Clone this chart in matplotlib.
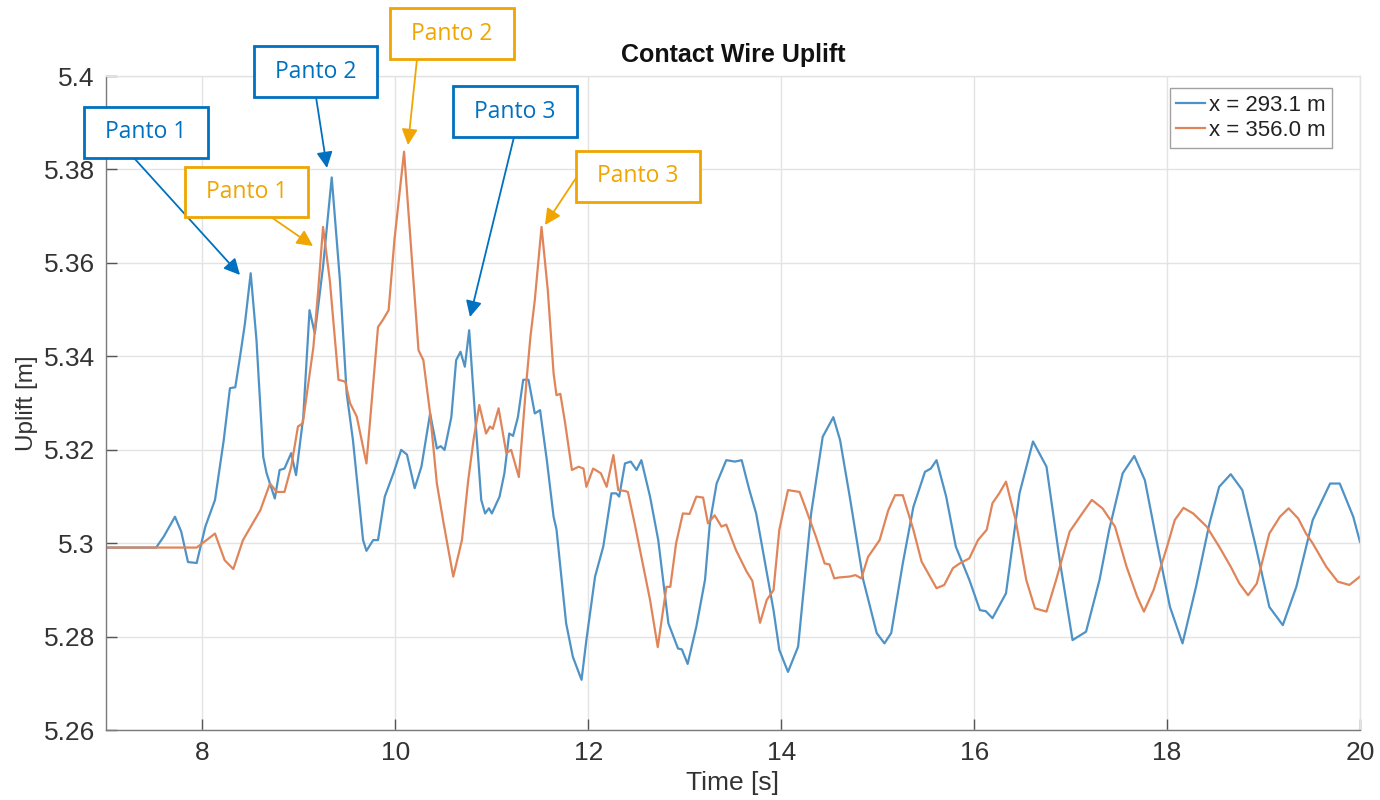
import matplotlib
matplotlib.use("Agg")
import matplotlib.pyplot as plt
from matplotlib.patches import Rectangle

# ---------------- data ----------------
t_blue = [7.0, 7.52, 7.6, 7.715, 7.78, 7.85, 7.94, 8.03, 8.13, 8.22, 8.285, 8.34, 8.39, 8.44, 8.50,
          8.56, 8.63, 8.665, 8.75, 8.80, 8.85, 8.92, 8.97, 9.045, 9.11, 9.165, 9.25, 9.34, 9.425,
          9.495, 9.56, 9.665, 9.70, 9.77, 9.82, 9.89, 9.98, 10.06, 10.12, 10.20, 10.27, 10.36,
          10.43, 10.47, 10.51, 10.58, 10.63, 10.675, 10.72, 10.765, 10.82, 10.89, 10.93, 10.97,
          11.00, 11.08, 11.13, 11.18, 11.22, 11.27, 11.325, 11.38, 11.445, 11.50, 11.57, 11.64,
          11.67, 11.77, 11.84, 11.93, 11.98, 12.07, 12.155, 12.24, 12.29, 12.32, 12.38, 12.44,
          12.50, 12.55, 12.64, 12.725, 12.83, 12.93, 12.97, 13.03, 13.12, 13.21, 13.26, 13.33,
          13.43, 13.52, 13.59, 13.67, 13.74, 13.79, 13.92, 13.98, 14.07, 14.175, 14.31, 14.43,
          14.54, 14.61, 14.71, 14.85, 14.99, 15.07, 15.14, 15.26, 15.37, 15.49, 15.55, 15.61,
          15.71, 15.81, 15.95, 16.06, 16.12, 16.19, 16.33, 16.47, 16.61, 16.75, 16.89, 17.02,
          17.16, 17.30, 17.40, 17.54, 17.66, 17.77, 17.89, 18.03, 18.16, 18.30, 18.44, 18.54,
          18.66, 18.78, 18.92, 19.06, 19.20, 19.34, 19.51, 19.69, 19.79, 19.93, 20.0]
y_blue = [5.2991, 5.2991, 5.3015, 5.3057, 5.3025, 5.2960, 5.2958, 5.3036, 5.3093, 5.3220, 5.3332,
          5.3334, 5.3400, 5.3470, 5.3578, 5.3435, 5.3185, 5.3150, 5.3096, 5.3157, 5.3160, 5.3193,
          5.3146, 5.3270, 5.3499, 5.3449, 5.3592, 5.3783, 5.3563, 5.3321, 5.3221, 5.3007, 5.2984,
          5.3007, 5.3007, 5.3100, 5.3150, 5.3200, 5.3190, 5.3118, 5.3164, 5.3278, 5.3203, 5.3208,
          5.3200, 5.3270, 5.3392, 5.3410, 5.3378, 5.3456, 5.3292, 5.3093, 5.3064, 5.3075, 5.3064,
          5.3100, 5.3150, 5.3235, 5.3230, 5.3270, 5.3350, 5.3350, 5.3278, 5.3285, 5.3178, 5.3057,
          5.3030, 5.2829, 5.2757, 5.2708, 5.2793, 5.2929, 5.2993, 5.3107, 5.3107, 5.3100, 5.3171,
          5.3175, 5.3157, 5.3178, 5.3100, 5.3007, 5.2829, 5.2775, 5.2773, 5.2742, 5.2822, 5.2922,
          5.3043, 5.3128, 5.3178, 5.3175, 5.3178, 5.3114, 5.3064, 5.3007, 5.2857, 5.2772, 5.2725,
          5.2779, 5.3064, 5.3228, 5.3270, 5.3221, 5.3100, 5.2922, 5.2808, 5.2786, 5.2808, 5.2957,
          5.3078, 5.3153, 5.3160, 5.3178, 5.3100, 5.2993, 5.2922, 5.2857, 5.2855, 5.2840, 5.2893,
          5.3107, 5.3218, 5.3164, 5.2960, 5.2793, 5.2811, 5.2922, 5.3029, 5.3150, 5.3187, 5.3135,
          5.3007, 5.2864, 5.2786, 5.2907, 5.3043, 5.3121, 5.3148, 5.3114, 5.2993, 5.2864, 5.2825,
          5.2907, 5.3050, 5.3128, 5.3128, 5.3057, 5.3003]

t_orange = [7.0, 7.94, 8.03, 8.13, 8.23, 8.32, 8.42, 8.49, 8.60, 8.70, 8.77, 8.85, 8.92, 8.99, 9.04,
            9.15, 9.20, 9.25, 9.32, 9.41, 9.48, 9.53, 9.60, 9.70, 9.75, 9.82, 9.87, 9.93, 9.99,
            10.09, 10.17, 10.24, 10.29, 10.36, 10.43, 10.50, 10.60, 10.69, 10.755, 10.81, 10.87,
            10.94, 10.98, 11.01, 11.07, 11.15, 11.20, 11.28, 11.36, 11.40, 11.445, 11.515, 11.58,
            11.64, 11.67, 11.71, 11.76, 11.83, 11.90, 11.95, 11.98, 12.05, 12.13, 12.19, 12.26,
            12.31, 12.38, 12.41, 12.48, 12.55, 12.64, 12.72, 12.81, 12.85, 12.91, 12.98, 13.05,
            13.12, 13.19, 13.24, 13.31, 13.38, 13.43, 13.53, 13.64, 13.70, 13.78, 13.85, 13.92,
            13.98, 14.07, 14.19, 14.26, 14.36, 14.45, 14.50, 14.55, 14.60, 14.71, 14.77, 14.83,
            14.90, 15.02, 15.11, 15.18, 15.26, 15.37, 15.455, 15.61, 15.69, 15.78, 15.85, 15.95,
            16.04, 16.13, 16.19, 16.26, 16.33, 16.43, 16.54, 16.63, 16.75, 16.85, 16.99, 17.12,
            17.22, 17.33, 17.46, 17.58, 17.69, 17.76, 17.86, 18.00, 18.08, 18.17, 18.27, 18.41,
            18.54, 18.66, 18.75, 18.84, 18.93, 19.06, 19.17, 19.26, 19.36, 19.44, 19.51, 19.65,
            19.77, 19.89, 20.0]
y_orange = [5.2991, 5.2991, 5.3005, 5.3021, 5.2964, 5.2945, 5.3007, 5.3032, 5.3071, 5.3128, 5.3110,
            5.3110, 5.3164, 5.3250, 5.3257, 5.3420, 5.3542, 5.3677, 5.3563, 5.3350, 5.3346, 5.3300,
            5.3271, 5.3171, 5.3292, 5.3463, 5.3478, 5.3499, 5.3649, 5.3838, 5.3613, 5.3413, 5.3392,
            5.3278, 5.3128, 5.3043, 5.2929, 5.3007, 5.3135, 5.3221, 5.3296, 5.3235, 5.3250, 5.3245,
            5.3289, 5.3193, 5.3200, 5.3142, 5.3350, 5.3442, 5.3520, 5.3677, 5.3542, 5.3364, 5.3317,
            5.3320, 5.3257, 5.3157, 5.3164, 5.3160, 5.3121, 5.3160, 5.3150, 5.3121, 5.3189, 5.3114,
            5.3112, 5.3110, 5.3043, 5.2971, 5.2879, 5.2778, 5.2907, 5.2907, 5.3000, 5.3064, 5.3063,
            5.3100, 5.3098, 5.3043, 5.3060, 5.3036, 5.3040, 5.2986, 5.2940, 5.2920, 5.2830, 5.2879,
            5.2900, 5.3029, 5.3114, 5.3110, 5.3071, 5.3014, 5.2957, 5.2955, 5.2925, 5.2927, 5.2929,
            5.2932, 5.2925, 5.2971, 5.3007, 5.3071, 5.3103, 5.3103, 5.3029, 5.2961, 5.2904, 5.2911,
            5.2947, 5.2957, 5.2968, 5.3007, 5.3029, 5.3086, 5.3107, 5.3132, 5.3050, 5.2922, 5.2861,
            5.2854, 5.2922, 5.3025, 5.3064, 5.3093, 5.3075, 5.3036, 5.2950, 5.2886, 5.2854, 5.2900,
            5.2993, 5.3050, 5.3076, 5.3064, 5.3036, 5.2993, 5.2950, 5.2914, 5.2889, 5.2914, 5.3021,
            5.3057, 5.3075, 5.3053, 5.3021, 5.3000, 5.2950, 5.2918, 5.2911, 5.2929]

series_labels = ["x = 293.1 m", "x = 356.0 m"]
x_ticks = [8, 10, 12, 14, 16, 18, 20]
y_ticks = [5.26, 5.28, 5.30, 5.32, 5.34, 5.36, 5.38, 5.40]
y_tick_labels = ["5.26", "5.28", "5.3", "5.32", "5.34", "5.36", "5.38", "5.4"]
annot_labels = ["Panto 1", "Panto 2", "Panto 3", "Panto 1", "Panto 2", "Panto 3"]

# ---------------- figure ----------------
W, H = 1380, 800
SANS = ["Liberation Sans", "DejaVu Sans"]
fig = plt.figure(figsize=(13.8, 8.0), dpi=100)
ax = fig.add_axes([106 / W, 1 - 730.3 / H, (1360 - 106) / W, (730.3 - 76) / H])

c_blue = "#4f93c6"
c_orange = "#e0855a"
ax.plot(t_blue, y_blue, color=c_blue, lw=1.6, label=series_labels[0])
ax.plot(t_orange, y_orange, color=c_orange, lw=1.6, label=series_labels[1])

ax.set_xlim(7, 20)
ax.set_ylim(5.26, 5.40)
ax.set_xticks(x_ticks)
ax.set_yticks(y_ticks)
ax.set_yticklabels(y_tick_labels)
for lab in ax.get_xticklabels() + ax.get_yticklabels():
    lab.set_fontfamily(SANS)
ax.tick_params(axis="both", direction="in", length=8, width=1.0, color="#555555",
               labelsize=19, labelcolor="#333333", pad=8)
ax.grid(True, color="#e3e3e3", lw=1.0)
ax.set_axisbelow(True)
for s in ["left", "bottom"]:
    ax.spines[s].set_color("#7a7a7a")
    ax.spines[s].set_linewidth(1.0)
for s in ["top", "right"]:
    ax.spines[s].set_color("#e3e3e3")
    ax.spines[s].set_linewidth(1.0)

ax.set_xlabel("Time [s]", fontsize=19, color="#333333", family=SANS, labelpad=4)
ax.set_ylabel("Uplift [m]", fontsize=17.5, color="#333333", family=SANS, labelpad=4)
ax.set_title("Contact Wire Uplift", fontsize=18, fontweight="bold", color="#111111",
             family=SANS, pad=10)

leg = ax.legend(loc="upper right", bbox_to_anchor=((1332 - 106) / 1254, (730.3 - 88) / 654.3),
                borderaxespad=0, frameon=True, fancybox=False,
                handlelength=1.3, handletextpad=0.15, borderpad=0.3, labelspacing=0.2,
                prop={"family": SANS, "size": 16})
leg.get_frame().set_edgecolor("#8a8a8a")
leg.get_frame().set_linewidth(1.0)
for txt in leg.get_texts():
    txt.set_color("#222222")

# ---------------- annotation boxes (pixel layout, image coordinates: y from top) ----------------
a_blue = "#0070C0"
a_orange = "#F0A500"
boxes = [  # (x0, y0_top, x1, y1_bottom, color, start_xy, tip_xy)
    (84, 107, 208, 158, a_blue, (134, 158), (240, 275)),
    (254, 46, 377, 97, a_blue, (316, 97), (327, 168)),
    (453, 86, 577, 137, a_blue, (514, 137), (470, 317)),
    (185, 167, 308, 217, a_orange, (271, 217), (313, 246)),
    (390, 8, 514, 59, a_orange, (417, 59), (408, 145)),
    (576, 151, 700, 202, a_orange, (576, 178), (545, 225)),
]
for (x0, y0, x1, y1, col, st, tip), lab in zip(boxes, annot_labels):
    rect = Rectangle((x0 / W, 1 - y1 / H), (x1 - x0) / W, (y1 - y0) / H,
                     transform=fig.transFigure, fill=True, facecolor="white",
                     edgecolor=col, lw=2.0, zorder=5)
    fig.patches.append(rect)
    fig.text((x0 + x1) / 2 / W, 1 - (y0 + y1) / 2 / H, lab, ha="center", va="center",
             fontsize=16.5, color=col, family=["Open Sans", "DejaVu Sans"], zorder=6)
    ax.annotate("", xy=(tip[0], H - tip[1]), xycoords="figure pixels",
                xytext=(st[0], H - st[1]), textcoords="figure pixels",
                arrowprops=dict(arrowstyle="-|>", color=col, lw=1.3,
                                mutation_scale=24, shrinkA=0, shrinkB=0),
                annotation_clip=False, zorder=7)

fig.savefig("out.png", dpi=100)
